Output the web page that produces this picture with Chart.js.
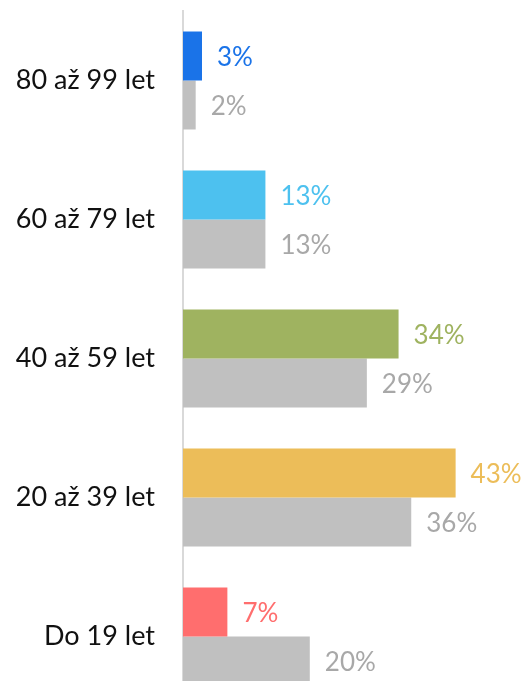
<!DOCTYPE html>
<html>
<head>
<meta charset="utf-8">
<script src="https://cdn.jsdelivr.net/npm/chart.js@4"></script>
<style>
  html, body { margin: 0; padding: 0; overflow: hidden; background: #fff; }
  #wrap { position: relative; width: 522px; height: 706px; }
</style>
</head>
<body>
<div id="wrap"><canvas id="myChart"></canvas></div>
<script>
const categories = ['80 až 99 let', '60 až 79 let', '40 až 59 let', '20 až 39 let', 'Do 19 let'];
const currentValues = [3, 13, 34, 43, 7];
const compareValues = [2, 13, 29, 36, 20];
const currentColors = ['#1a73e8', '#4dc1ef', '#9fb360', '#ecbd59', '#ff6e6e'];
const compareColor = '#c0c0c0';
const compareLabelColor = '#a8a8a8';

const fontFamily = 'Lato, "Open Sans", sans-serif';

// percent labels next to the bar ends
const valueLabels = {
    id: 'valueLabels',
    afterDatasetsDraw(chart) {
        const ctx = chart.ctx;
        ctx.save();
        ctx.font = '26px ' + fontFamily;
        ctx.textBaseline = 'middle';
        ctx.textAlign = 'left';
        chart.data.datasets.forEach((ds, di) => {
            chart.getDatasetMeta(di).data.forEach((bar, i) => {
                ctx.fillStyle = di === 0 ? currentColors[i] : compareLabelColor;
                ctx.fillText(ds.data[i] + '%', bar.x + 15, bar.y + 2);
            });
        });
        ctx.restore();
    }
};

const data = {
    labels: categories,
    datasets: [{
        label: 'current',
        data: currentValues,
        backgroundColor: currentColors
    }, {
        label: 'compare',
        data: compareValues,
        backgroundColor: compareColor
    }]
};

const config = {
    type: 'bar',
    data: data,
    options: {
        indexAxis: 'y',
        responsive: true,
        maintainAspectRatio: false,
        animation: false,
        categoryPercentage: 0.705,
        barPercentage: 1,
        layout: {
            padding: { top: 11, right: 22, bottom: 0, left: 0 }
        },
        scales: {
            x: {
                display: false,
                min: 0,
                max: 50
            },
            y: {
                grid: { display: false },
                border: { display: true, color: '#d9d9d9', width: 2 },
                ticks: {
                    color: '#111',
                    padding: 20,
                    font: { size: 27, family: fontFamily }
                },
                afterFit(scale) {
                    scale.width = 183;
                    scale.paddingTop = 0;
                    scale.paddingBottom = 0;
                }
            }
        },
        plugins: {
            legend: { display: false },
            tooltip: { enabled: false }
        }
    },
    plugins: [valueLabels]
};

var myChart = new Chart(
    document.getElementById('myChart'),
    config
);
</script>
</body>
</html>
